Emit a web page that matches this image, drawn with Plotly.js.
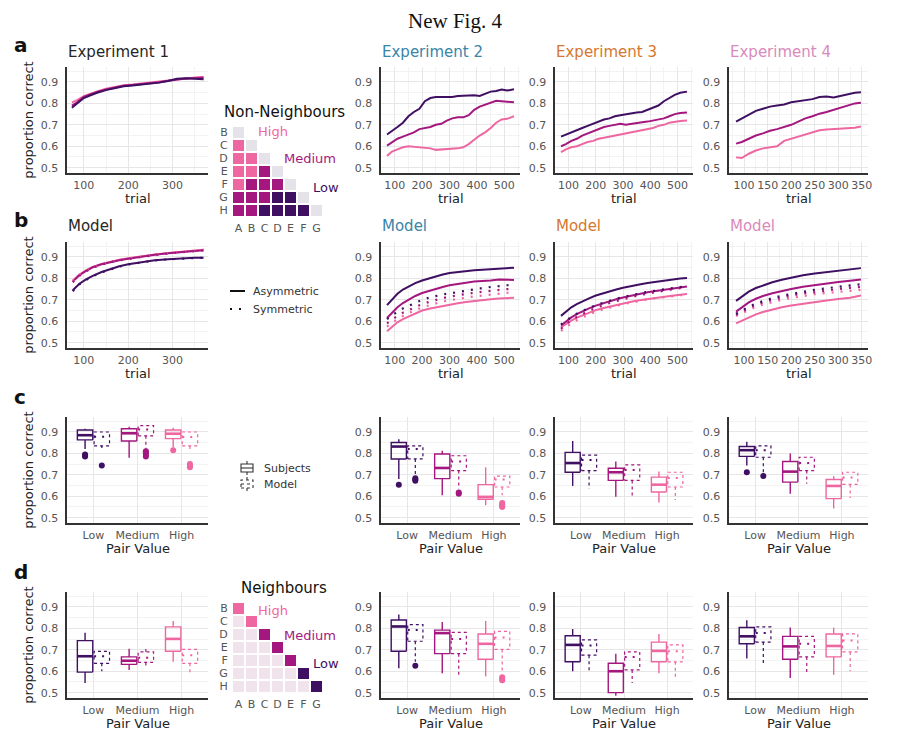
<!DOCTYPE html>
<html><head><meta charset="utf-8">
<script src="https://cdn.plot.ly/plotly-3.0.1.min.js"></script>
<style>html,body{margin:0;padding:0;background:#fff}#chart{width:914px;height:731px}</style>
</head><body><div id="chart"></div>
<script>
// ================= DATA =================
const pairLevels = ['Low', 'Medium', 'High'];
const matrixCols = ['A','B','C','D','E','F','G'];
const matrixRows = ['B','C','D','E','F','G','H'];
const expTitles = ['Experiment 1', 'Experiment 2', 'Experiment 3', 'Experiment 4'];
const modelTitles = ['Model', 'Model', 'Model', 'Model'];

// Row a: observed learning curves (proportion correct by trial)
const trialsE1 = [73,85,100,115,130,150,170,190,210,230,250,270,290,310,330,350,370];
const e1Low    = [0.78,0.80,0.825,0.838,0.85,0.862,0.872,0.88,0.884,0.888,0.893,0.897,0.905,0.915,0.918,0.915,0.913];
const e1Medium = [0.79,0.805,0.83,0.842,0.853,0.865,0.873,0.882,0.886,0.89,0.894,0.899,0.906,0.912,0.916,0.918,0.92];
const e1High   = [0.805,0.815,0.834,0.846,0.856,0.868,0.877,0.885,0.888,0.892,0.896,0.901,0.907,0.913,0.915,0.921,0.925];

const trialsE23 = [72,90,110,130,150,170,190,210,230,250,270,290,310,330,350,370,390,410,430,450,470,490,510,535];
const e2Low    = [0.655,0.67,0.69,0.71,0.74,0.76,0.775,0.81,0.825,0.83,0.83,0.832,0.83,0.835,0.836,0.834,0.838,0.835,0.845,0.855,0.858,0.865,0.86,0.866];
const e2Medium = [0.603,0.62,0.635,0.645,0.655,0.665,0.68,0.685,0.69,0.70,0.705,0.72,0.73,0.735,0.735,0.745,0.77,0.785,0.795,0.805,0.812,0.81,0.808,0.805];
const e2High   = [0.555,0.575,0.585,0.595,0.60,0.598,0.595,0.595,0.59,0.583,0.585,0.585,0.587,0.59,0.595,0.61,0.63,0.65,0.665,0.685,0.71,0.725,0.728,0.74];
const e3Low    = [0.645,0.655,0.665,0.675,0.685,0.695,0.705,0.715,0.725,0.73,0.74,0.745,0.75,0.755,0.758,0.76,0.77,0.78,0.79,0.81,0.825,0.84,0.85,0.855];
const e3Medium = [0.60,0.61,0.625,0.635,0.65,0.66,0.67,0.68,0.69,0.695,0.70,0.705,0.70,0.705,0.71,0.712,0.715,0.72,0.725,0.73,0.74,0.75,0.755,0.757];
const e3High   = [0.572,0.585,0.595,0.60,0.61,0.62,0.625,0.635,0.64,0.645,0.65,0.655,0.66,0.665,0.67,0.675,0.678,0.685,0.695,0.70,0.71,0.715,0.718,0.72];

const trialsE4 = [83,95,110,125,140,155,170,185,200,215,230,245,260,275,290,305,320,335,348];
const e4Low    = [0.715,0.73,0.75,0.765,0.775,0.785,0.79,0.795,0.805,0.81,0.815,0.82,0.83,0.832,0.828,0.835,0.845,0.85,0.852];
const e4Medium = [0.612,0.62,0.635,0.65,0.66,0.672,0.68,0.69,0.70,0.715,0.73,0.74,0.752,0.76,0.77,0.78,0.79,0.80,0.803];
const e4High   = [0.548,0.545,0.565,0.58,0.59,0.595,0.60,0.625,0.635,0.645,0.655,0.668,0.675,0.678,0.68,0.684,0.684,0.686,0.692];

// Row b: model learning curves (asymmetric = solid, symmetric = dotted)
const trialsM1 = [75,90,105,120,140,160,180,200,230,260,290,320,350,370];
const m1LowAsym  = [0.745,0.775,0.795,0.812,0.83,0.845,0.857,0.866,0.877,0.885,0.89,0.894,0.896,0.897];
const m1MedAsym  = [0.785,0.815,0.835,0.852,0.866,0.877,0.885,0.892,0.902,0.91,0.917,0.923,0.929,0.932];
const m1HighAsym = [0.79,0.818,0.838,0.854,0.868,0.879,0.887,0.894,0.904,0.912,0.919,0.925,0.931,0.934];
const m1LowSym   = [0.74,0.772,0.793,0.81,0.828,0.843,0.855,0.865,0.876,0.884,0.889,0.893,0.895,0.896];
const m1MedSym   = [0.782,0.812,0.833,0.85,0.864,0.876,0.884,0.891,0.901,0.909,0.916,0.922,0.928,0.931];
const m1HighSym  = [0.787,0.816,0.836,0.852,0.866,0.878,0.886,0.893,0.903,0.911,0.918,0.924,0.93,0.933];

const trialsM23 = [72,90,110,130,150,175,200,225,250,275,300,330,360,390,420,450,480,510,535];
const m2LowAsym  = [0.675,0.70,0.728,0.748,0.762,0.778,0.79,0.80,0.81,0.818,0.825,0.83,0.836,0.838,0.84,0.843,0.846,0.848,0.85];
const m2MedAsym  = [0.615,0.64,0.665,0.685,0.70,0.718,0.732,0.742,0.752,0.76,0.768,0.775,0.78,0.785,0.787,0.79,0.795,0.795,0.793];
const m2HighAsym = [0.553,0.575,0.595,0.61,0.622,0.638,0.65,0.658,0.665,0.672,0.678,0.684,0.69,0.695,0.70,0.703,0.706,0.708,0.71];
const m2LowSym   = [0.61,0.628,0.645,0.66,0.672,0.687,0.70,0.71,0.718,0.725,0.73,0.737,0.744,0.75,0.755,0.76,0.765,0.768,0.77];
const m2MedSym   = [0.59,0.607,0.625,0.64,0.652,0.667,0.68,0.69,0.70,0.708,0.715,0.722,0.728,0.733,0.738,0.743,0.747,0.75,0.752];
const m2HighSym  = [0.575,0.592,0.61,0.625,0.638,0.652,0.665,0.675,0.684,0.692,0.698,0.705,0.71,0.716,0.72,0.725,0.73,0.733,0.735];
const m3LowAsym  = [0.625,0.645,0.665,0.68,0.693,0.707,0.72,0.73,0.74,0.748,0.756,0.765,0.772,0.779,0.785,0.79,0.795,0.80,0.802];
const m3MedAsym  = [0.58,0.60,0.618,0.633,0.646,0.66,0.673,0.684,0.694,0.703,0.711,0.72,0.728,0.735,0.741,0.747,0.753,0.758,0.762];
const m3HighAsym = [0.572,0.588,0.603,0.617,0.628,0.641,0.652,0.661,0.669,0.677,0.684,0.691,0.698,0.704,0.709,0.714,0.719,0.724,0.727];
const m3LowSym   = [0.585,0.603,0.62,0.635,0.648,0.662,0.675,0.686,0.696,0.705,0.713,0.722,0.73,0.737,0.743,0.749,0.755,0.76,0.764];
const m3MedSym   = [0.565,0.585,0.605,0.62,0.634,0.649,0.662,0.674,0.685,0.694,0.703,0.713,0.722,0.729,0.736,0.743,0.749,0.755,0.759];
const m3HighSym  = [0.555,0.572,0.59,0.605,0.618,0.632,0.645,0.655,0.664,0.672,0.68,0.688,0.695,0.702,0.708,0.713,0.718,0.722,0.725];

const trialsM4 = [83,95,110,125,140,160,180,200,225,250,275,300,325,348];
const m4LowAsym  = [0.695,0.715,0.738,0.755,0.768,0.782,0.794,0.804,0.815,0.823,0.83,0.836,0.842,0.848];
const m4MedAsym  = [0.645,0.665,0.688,0.705,0.718,0.731,0.742,0.751,0.761,0.769,0.776,0.783,0.789,0.795];
const m4HighAsym = [0.59,0.603,0.619,0.632,0.643,0.655,0.665,0.673,0.682,0.69,0.697,0.704,0.71,0.72];
const m4LowSym   = [0.635,0.65,0.668,0.683,0.695,0.708,0.719,0.728,0.738,0.747,0.754,0.761,0.767,0.773];
const m4MedSym   = [0.63,0.645,0.662,0.676,0.688,0.70,0.711,0.72,0.729,0.737,0.744,0.75,0.756,0.76];
const m4HighSym  = [0.625,0.638,0.654,0.667,0.678,0.69,0.70,0.709,0.718,0.726,0.732,0.738,0.742,0.746];

// Rows c/d: box summaries per pair value [lower whisker, Q1, median, Q3, upper whisker]
const nnE1Subj  = [[0.82,0.863,0.885,0.909,0.915],[0.78,0.858,0.894,0.915,0.925],[0.828,0.869,0.892,0.909,0.92]];
const nnE1Model = [[0.825,0.835,0.878,0.90,0.90],[0.82,0.882,0.912,0.93,0.93],[0.82,0.835,0.877,0.90,0.90]];
const nnE1SubjOut  = [[0.785,0.79,0.795],[],[0.815]];
const nnE1ModelOut = [[0.743],[0.785,0.795,0.805,0.81],[0.735,0.742,0.75]];
const nnE2Subj  = [[0.68,0.774,0.832,0.851,0.866],[0.605,0.682,0.732,0.797,0.812],[0.558,0.586,0.597,0.654,0.735]];
const nnE2Model = [[0.70,0.774,0.82,0.835,0.835],[0.635,0.72,0.762,0.789,0.789],[0.605,0.643,0.678,0.694,0.694]];
const nnE2SubjOut  = [[0.654],[],[]];
const nnE2ModelOut = [[0.672,0.678,0.684],[0.612,0.617],[0.55,0.556,0.562,0.568]];
const nnE3Subj  = [[0.648,0.712,0.755,0.805,0.858],[0.597,0.674,0.712,0.731,0.762],[0.571,0.62,0.654,0.689,0.715]];
const nnE3Model = [[0.635,0.72,0.769,0.792,0.792],[0.589,0.674,0.723,0.746,0.746],[0.582,0.643,0.685,0.712,0.712]];
const nnE3SubjOut  = [[],[],[]];
const nnE3ModelOut = [[],[],[]];
const nnE4Subj  = [[0.743,0.786,0.815,0.832,0.854],[0.612,0.666,0.715,0.762,0.80],[0.543,0.589,0.648,0.678,0.694]];
const nnE4Model = [[0.705,0.782,0.815,0.835,0.835],[0.658,0.72,0.755,0.782,0.782],[0.592,0.655,0.688,0.712,0.712]];
const nnE4SubjOut  = [[0.712],[],[]];
const nnE4ModelOut = [[0.694],[],[]];

const nE1Subj  = [[0.545,0.596,0.67,0.743,0.78],[0.606,0.632,0.649,0.667,0.705],[0.644,0.693,0.751,0.807,0.835]];
const nE1Model = [[0.60,0.637,0.67,0.693,0.693],[0.614,0.641,0.663,0.69,0.713],[0.583,0.637,0.675,0.702,0.702]];
const nE1SubjOut  = [[],[],[]];
const nE1ModelOut = [[],[],[]];
const nE2Subj  = [[0.614,0.693,0.809,0.839,0.865],[0.591,0.682,0.778,0.792,0.83],[0.576,0.656,0.728,0.774,0.835]];
const nE2Model = [[0.644,0.74,0.792,0.818,0.818],[0.583,0.682,0.751,0.781,0.781],[0.60,0.702,0.758,0.786,0.786]];
const nE2SubjOut  = [[],[],[]];
const nE2ModelOut = [[0.626],[],[0.558,0.565,0.572]];
const nE3Subj  = [[0.60,0.644,0.723,0.766,0.797],[0.485,0.50,0.60,0.637,0.682],[0.591,0.644,0.695,0.736,0.774]];
const nE3Model = [[0.599,0.675,0.72,0.746,0.746],[0.545,0.606,0.667,0.69,0.69],[0.568,0.644,0.693,0.723,0.723]];
const nE3SubjOut  = [[],[],[]];
const nE3ModelOut = [[],[],[]];
const nE4Subj  = [[0.66,0.728,0.763,0.804,0.838],[0.568,0.656,0.716,0.763,0.804],[0.583,0.667,0.718,0.774,0.804]];
const nE4Model = [[0.632,0.736,0.778,0.807,0.807],[0.587,0.667,0.728,0.763,0.763],[0.60,0.69,0.743,0.774,0.774]];
const nE4SubjOut  = [[],[],[]];
const nE4ModelOut = [[],[],[]];

// Pair-value matrices (0 = neutral, 1 = Low, 2 = Medium, 3 = High)
const nonNeighbourMatrix = [
  [0,null,null,null,null,null,null],
  [3,0,null,null,null,null,null],
  [3,3,0,null,null,null,null],
  [3,3,2,0,null,null,null],
  [3,2,2,2,0,null,null],
  [2,2,2,1,1,0,null],
  [2,2,1,1,1,1,0]
];
const neighbourMatrix = [
  [3,null,null,null,null,null,null],
  [0,3,null,null,null,null,null],
  [0,0,2,null,null,null,null],
  [0,0,0,2,null,null,null],
  [0,0,0,0,2,null,null],
  [0,0,0,0,0,1,null],
  [0,0,0,0,0,0,1]
];

// ================= STYLE / LAYOUT =================
const W = 914, H = 731;
const px = v => v / W;
const py = v => 1 - v / H;
const FONT = 'DejaVu Sans';
const pairColors = ['#3f0f62', '#a3177e', '#ee67a0'];
const expColors = ['#262626', '#3a84a8', '#d6772f', '#d98abc'];
const colX = [[67,208],[381,520],[555,693],[729,868]];
const rowY = [[67,173],[242,348],[417,523],[592,698]];
const xTitleY = [198, 373, 548, 723];
const xRanges = [[62,380],[50,557],[50,557],[68,363]];
const xDticks = [100,100,100,50];

const traces = [];
const layout = {
  width: W, height: H, margin: {l:0,r:0,t:0,b:0},
  paper_bgcolor: '#fff', plot_bgcolor: 'rgba(0,0,0,0)',
  font: {family: FONT, color: '#222'},
  showlegend: false, annotations: [], shapes: []
};

function axName(i) { return i === 1 ? '' : String(i); }

function ann(text, x, y, opts) {
  layout.annotations.push(Object.assign({text: text, x: px(x), y: py(y), xref: 'paper', yref: 'paper',
    showarrow: false, xanchor: 'left', yanchor: 'middle', font: {family: FONT, size: 13, color: '#222'}}, opts || {}));
}

for (let r = 0; r < 4; r++) {
  for (let c = 0; c < 4; c++) {
    const i = r * 4 + c + 1, n = axName(i);
    const isBox = r >= 2;
    const xa = {
      domain: [px(colX[c][0]), px(colX[c][1])], anchor: 'y' + n,
      showline: true, linecolor: '#333', linewidth: 1.6, mirror: false,
      zeroline: false, showgrid: true, gridcolor: '#e6e6e6', gridwidth: 1,
      ticks: 'outside', ticklen: 1, tickcolor: 'rgba(0,0,0,0)',
      tickfont: {size: 11, color: '#555', family: FONT},
      fixedrange: true
    };
    if (isBox) {
      xa.range = [0.4, 3.6]; xa.tickmode = 'array'; xa.tickvals = [1,2,3]; xa.ticktext = pairLevels;
    } else {
      xa.range = xRanges[c]; xa.tickmode = 'linear'; xa.tick0 = 0; xa.dtick = xDticks[c];
      xa.minor = {dtick: xDticks[c] / 2, tick0: 0, showgrid: true, gridcolor: '#f3f3f3', ticks: ''};
    }
    const ya = {
      domain: [py(rowY[r][1]), py(rowY[r][0])], anchor: 'x' + n,
      range: [0.475, 0.97], tickmode: 'array', tickvals: [0.5,0.6,0.7,0.8,0.9],
      showline: true, linecolor: '#333', linewidth: 1.6, mirror: false,
      zeroline: false, showgrid: true, gridcolor: '#e6e6e6', gridwidth: 1,
      minor: {tickvals: [0.55,0.65,0.75,0.85,0.95], showgrid: true, gridcolor: '#f3f3f3', ticks: ''},
      ticks: 'outside', ticklen: 5, tickcolor: 'rgba(0,0,0,0)',
      tickfont: {size: 11, color: '#555', family: FONT}, fixedrange: true
    };
    if (c === 0) ya.title = {text: 'proportion correct', font: {size: 13, color: '#222', family: FONT}, standoff: 4};
    layout['xaxis' + n] = xa;
    layout['yaxis' + n] = ya;
    // x-axis title placed under each panel
    ann(isBox ? 'Pair Value' : 'trial', (colX[c][0] + colX[c][1]) / 2, xTitleY[r],
        {xanchor: 'center', font: {family: FONT, size: 13, color: '#222'}});
  }
}

function lineTrace(i, x, y, color, dash, width) {
  const n = axName(i);
  return {type: 'scatter', mode: 'lines', x: x, y: y, xaxis: 'x' + n, yaxis: 'y' + n,
          line: {color: color, width: width || 2, dash: dash || 'solid'}, hoverinfo: 'skip', showlegend: false};
}

// Row a
const rowA = [
  [trialsE1, [e1Low, e1Medium, e1High]],
  [trialsE23, [e2Low, e2Medium, e2High]],
  [trialsE23, [e3Low, e3Medium, e3High]],
  [trialsE4, [e4Low, e4Medium, e4High]]
];
rowA.forEach((p, c) => {
  [2, 1, 0].forEach(k => traces.push(lineTrace(c + 1, p[0], p[1][k], pairColors[k], 'solid', 2)));
});

// Row b
const rowB = [
  [trialsM1, [m1LowAsym, m1MedAsym, m1HighAsym], [m1LowSym, m1MedSym, m1HighSym]],
  [trialsM23, [m2LowAsym, m2MedAsym, m2HighAsym], [m2LowSym, m2MedSym, m2HighSym]],
  [trialsM23, [m3LowAsym, m3MedAsym, m3HighAsym], [m3LowSym, m3MedSym, m3HighSym]],
  [trialsM4, [m4LowAsym, m4MedAsym, m4HighAsym], [m4LowSym, m4MedSym, m4HighSym]]
];
rowB.forEach((p, c) => {
  [2, 1, 0].forEach(k => traces.push(lineTrace(5 + c, p[0], p[1][k], pairColors[k], 'solid', 2)));
  [2, 1, 0].forEach(k => traces.push(lineTrace(5 + c, p[0], p[2][k], pairColors[k], '2px,7px', 2.2)));
});

// Rows c / d: boxes
function addBoxes(i, subj, model, subjOut, modelOut) {
  const n = axName(i);
  pairLevels.forEach((lvl, k) => {
    const cat = k + 1, col = pairColors[k];
    [[subj[k], subjOut[k], -1], [model[k], modelOut[k], 1]].forEach(([s, out, side]) => {
      const x0 = cat + side * 0.015, x1 = cat + side * 0.365, xc = (x0 + x1) / 2;
      const isModel = side > 0;
      const dash = isModel ? 'dot' : 'solid';
      const w = isModel ? 1.2 : 1.4;
      traces.push({type: 'scatter', mode: 'lines', xaxis: 'x' + n, yaxis: 'y' + n,
        x: [x0, x1, x1, x0, x0, null, xc, xc, null, xc, xc],
        y: [s[1], s[1], s[3], s[3], s[1], null, s[3], s[4], null, s[1], s[0]],
        line: {color: col, width: w, dash: dash}, hoverinfo: 'skip', showlegend: false});
      traces.push({type: 'scatter', mode: 'lines', xaxis: 'x' + n, yaxis: 'y' + n,
        x: [x0, x1], y: [s[2], s[2]],
        line: {color: col, width: isModel ? 2 : 2.6, dash: isModel ? '2px,6px' : 'solid'},
        hoverinfo: 'skip', showlegend: false});
      if (out.length) {
        traces.push({type: 'scatter', mode: 'markers', xaxis: 'x' + n, yaxis: 'y' + n,
          x: out.map(() => xc), y: out, marker: {color: col, size: 6},
          hoverinfo: 'skip', showlegend: false});
      }
    });
  });
}
addBoxes(9,  nnE1Subj, nnE1Model, nnE1SubjOut, nnE1ModelOut);
addBoxes(10, nnE2Subj, nnE2Model, nnE2SubjOut, nnE2ModelOut);
addBoxes(11, nnE3Subj, nnE3Model, nnE3SubjOut, nnE3ModelOut);
addBoxes(12, nnE4Subj, nnE4Model, nnE4SubjOut, nnE4ModelOut);
addBoxes(13, nE1Subj, nE1Model, nE1SubjOut, nE1ModelOut);
addBoxes(14, nE2Subj, nE2Model, nE2SubjOut, nE2ModelOut);
addBoxes(15, nE3Subj, nE3Model, nE3SubjOut, nE3ModelOut);
addBoxes(16, nE4Subj, nE4Model, nE4SubjOut, nE4ModelOut);

// Heatmaps
function heatAxes(n, x0, x1, y0, y1) {
  layout['xaxis' + n] = {domain: [px(x0), px(x1)], anchor: 'y' + n, showgrid: false, zeroline: false, showline: false,
    tickmode: 'array', tickvals: matrixCols,
    ticks: 'outside', ticklen: 1, tickcolor: 'rgba(0,0,0,0)', tickfont: {size: 11, color: '#555', family: FONT}, fixedrange: true};
  layout['yaxis' + n] = {domain: [py(y1), py(y0)], anchor: 'x' + n, autorange: 'reversed', showgrid: false, zeroline: false, showline: false,
    tickmode: 'array', tickvals: matrixRows,
    ticks: 'outside', ticklen: 1, tickcolor: 'rgba(0,0,0,0)', tickfont: {size: 11, color: '#555', family: FONT}, fixedrange: true};
}
heatAxes('17', 232, 323, 126, 217);
heatAxes('18', 232, 323, 602, 693);
traces.push({type: 'heatmap', x: matrixCols, y: matrixRows, z: nonNeighbourMatrix, xaxis: 'x17', yaxis: 'y17',
  zmin: 0, zmax: 3, showscale: false, xgap: 2, ygap: 2, hoverinfo: 'skip',
  colorscale: [[0, '#e6e2ea'], [1/3, pairColors[0]], [2/3, pairColors[1]], [1, pairColors[2]]]});
traces.push({type: 'heatmap', x: matrixCols, y: matrixRows, z: neighbourMatrix, xaxis: 'x18', yaxis: 'y18',
  zmin: 0, zmax: 3, showscale: false, xgap: 2, ygap: 2, hoverinfo: 'skip',
  colorscale: [[0, '#f0e3eb'], [1/3, pairColors[0]], [2/3, pairColors[1]], [1, pairColors[2]]]});

// ================= ANNOTATIONS =================
ann('New Fig. 4', 455, 21, {xanchor: 'center', font: {family: 'Liberation Serif', size: 21, color: '#111'}});
['a','b','c','d'].forEach((l, r) => ann('<b>' + l + '</b>', 12, [45, 220, 397, 572][r], {font: {family: FONT, size: 20, color: '#111'}}));
for (let c = 0; c < 4; c++) {
  ann(expTitles[c], colX[c][0] - 1, 52, {font: {family: FONT, size: 15, color: expColors[c]}});
  ann(modelTitles[c], colX[c][0] - 1, 226, {font: {family: FONT, size: 15, color: expColors[c]}});
}
ann('Non-Neighbours', 284, 112, {xanchor: 'center', font: {family: FONT, size: 15, color: '#111'}});
ann('High', 256, 132, {font: {family: FONT, size: 13, color: pairColors[2]}});
ann('Medium', 282, 159, {font: {family: FONT, size: 13, color: pairColors[1]}});
ann('Low', 311, 187, {font: {family: FONT, size: 13, color: pairColors[0]}});
ann('Neighbours', 284, 588, {xanchor: 'center', font: {family: FONT, size: 15, color: '#111'}});
ann('High', 256, 610, {font: {family: FONT, size: 13, color: pairColors[2]}});
ann('Medium', 282, 635, {font: {family: FONT, size: 13, color: pairColors[1]}});
ann('Low', 311, 663, {font: {family: FONT, size: 13, color: pairColors[0]}});

// line-type legend
ann('Asymmetric', 251, 291, {font: {family: FONT, size: 11, color: '#333'}});
ann('Symmetric', 251, 309, {font: {family: FONT, size: 11, color: '#333'}});
layout.shapes.push({type: 'line', xref: 'paper', yref: 'paper', x0: px(230), x1: px(245), y0: py(291), y1: py(291), line: {color: '#111', width: 2}});
layout.shapes.push({type: 'line', xref: 'paper', yref: 'paper', x0: px(230), x1: px(245), y0: py(309), y1: py(309), line: {color: '#111', width: 2.2, dash: '2px,7px'}});

// box legend
function legendBox(cy, dash) {
  const s = {xref: 'paper', yref: 'paper', line: {color: '#333', width: 1.1, dash: dash}};
  layout.shapes.push(Object.assign({type: 'rect', x0: px(241), x1: px(253), y0: py(cy + 4), y1: py(cy - 4)}, s));
  layout.shapes.push(Object.assign({type: 'line', x0: px(241), x1: px(253), y0: py(cy), y1: py(cy)}, s));
  layout.shapes.push(Object.assign({type: 'line', x0: px(247), x1: px(247), y0: py(cy - 4), y1: py(cy - 7)}, s));
  layout.shapes.push(Object.assign({type: 'line', x0: px(247), x1: px(247), y0: py(cy + 4), y1: py(cy + 7)}, s));
}
legendBox(468, 'solid');
legendBox(484, 'dot');
ann('Subjects', 262, 468, {font: {family: FONT, size: 11, color: '#333'}});
ann('Model', 262, 484, {font: {family: FONT, size: 11, color: '#333'}});

Plotly.newPlot('chart', traces, layout, {staticPlot: true, displayModeBar: false});
</script>
</body></html>
